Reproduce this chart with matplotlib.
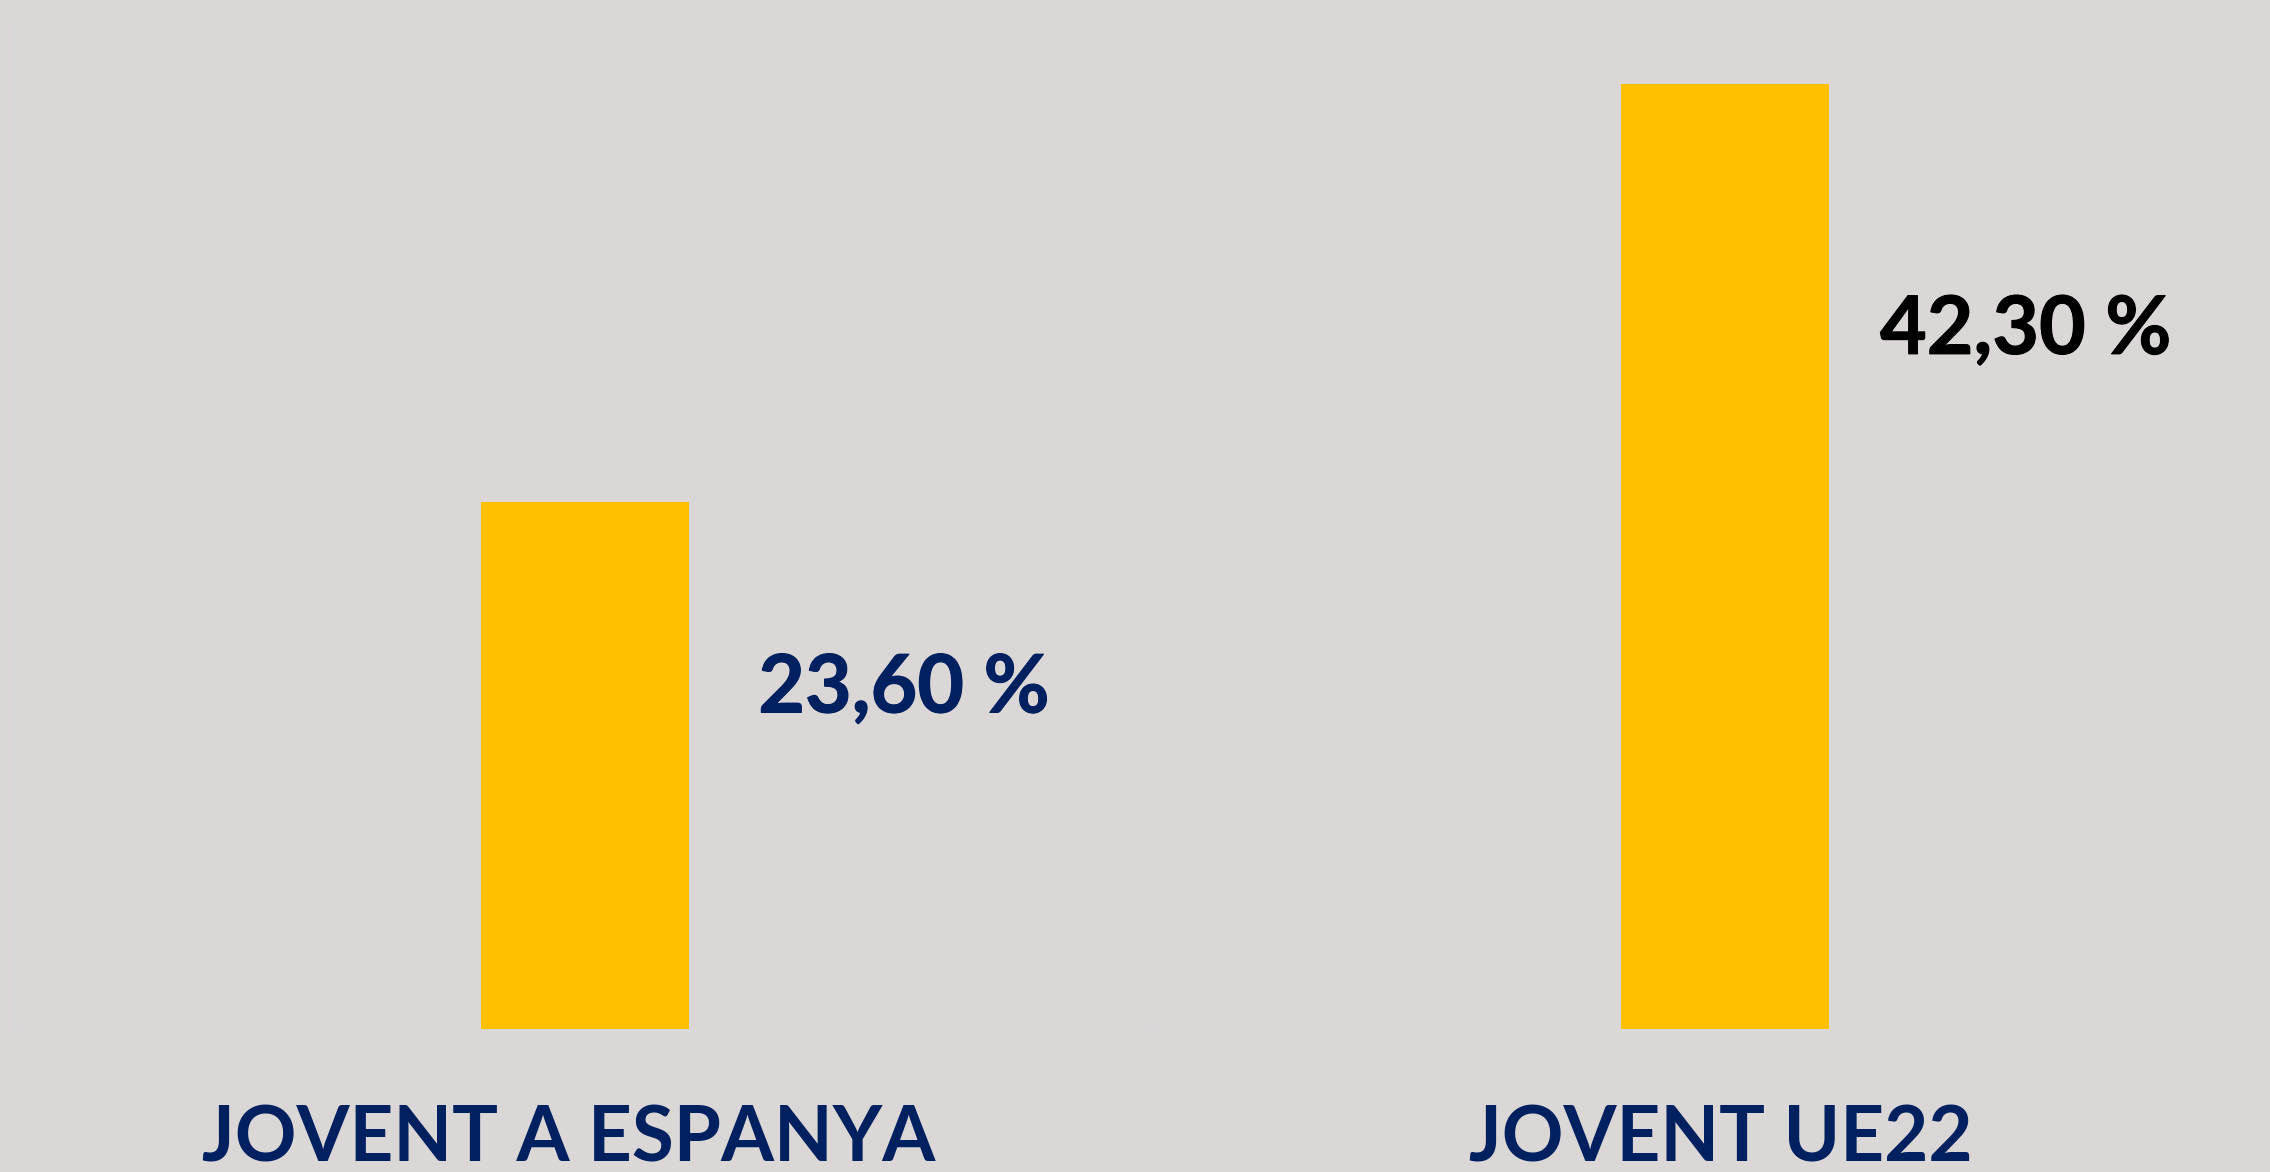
import matplotlib
matplotlib.use("Agg")
import matplotlib.pyplot as plt
from matplotlib.lines import Line2D
import matplotlib.patheffects as pe

categories = ["JOVENT A ESPANYA", "JOVENT UE22"]
values = [23.60, 42.30]
value_labels = ["23,60 %", "42,30 %"]
value_colors = ["#002060", "#000000"]
label_heights = [15.2, 31.25]

BG = "#DBD7D6"
BAR = "#FFC000"
NAVY = "#002060"

W, H = 2270, 1172
fig = plt.figure(figsize=(W / 100, H / 100), dpi=100, facecolor=BG)

base_px = 1029
ax = fig.add_axes([0, (H - base_px) / H, 1, base_px / H])
ax.set_facecolor(BG)
s = 945 / 42.3  # px per unit
ax.set_ylim(0, base_px / s)
ax.set_xlim(-585 / 1140, (W - 585) / 1140)

x = list(range(len(categories)))
ax.bar(x, values, width=208 / 1140, color=BAR, zorder=3)

offsets = [0.152, 0.136]
for xi, lab, col, yh, off in zip(x, value_labels, value_colors, label_heights, offsets):
    ax.text(xi + off, yh, lab, color=col, fontsize=58, fontweight="bold",
            family=["Lato", "DejaVu Sans"], ha="left", va="center", zorder=4,
            path_effects=[pe.withStroke(linewidth=0.8, foreground=col)])

for xi, cat in zip(x, categories):
    ax.text(xi - 0.014 if xi == 0 else xi - 0.004, -(1161 - base_px) / s, cat, color=NAVY,
            fontsize=55, fontweight="bold", family=["Lato", "DejaVu Sans"],
            ha="center", va="baseline", clip_on=False)

for sp in ax.spines.values():
    sp.set_visible(False)
ax.set_xticks([])
ax.set_yticks([])

lc = "#D9D9D9"
def px_line(x0, y0, x1, y1):
    fig.add_artist(Line2D([x0 / W, x1 / W], [1 - y0 / H, 1 - y1 / H],
                          color=lc, linewidth=3, transform=fig.transFigure, zorder=1))
px_line(15, 24, 15, 1032)
px_line(1152, 24, 1152, 1032)
px_line(15, 1032, W, 1032)

fig.savefig("out.png", dpi=100, facecolor=BG)
